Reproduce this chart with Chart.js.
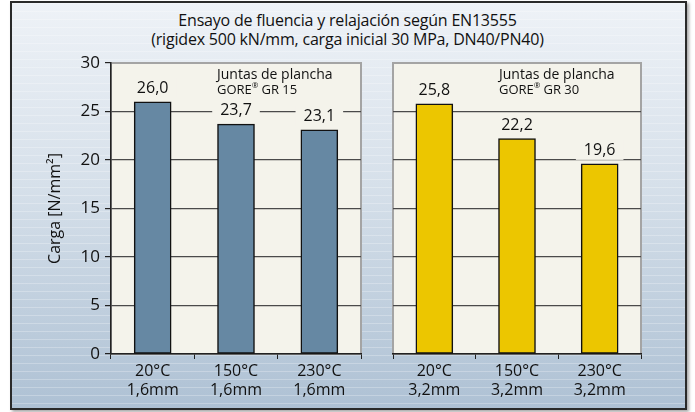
<!DOCTYPE html>
<html>
<head>
<meta charset="utf-8">
<script src="https://cdn.jsdelivr.net/npm/chart.js@4"></script>
<style>
  html, body { margin: 0; padding: 0; width: 695px; height: 412px; background: #ffffff; overflow: hidden; }
  #frame {
    position: absolute; left: 10px; top: 1px; width: 673px; height: 405px;
    border: 2px solid #2a2a2a;
    box-shadow: 2px 2px 3px rgba(0,0,0,0.35);
    background:
      repeating-linear-gradient(to bottom, rgba(255,255,255,0.25) 0px, rgba(255,255,255,0.25) 1px, rgba(0,0,0,0) 1px, rgba(0,0,0,0) 8px),
      linear-gradient(to bottom, #eef2f7 0%, #d6e0ea 45%, #aec1d4 100%);
  }
  #title {
    position: absolute; left: 0; top: 11px; width: 695px; text-align: center;
    font-family: "Open Sans", sans-serif; font-size: 16px; line-height: 19px; color: #111111;
    letter-spacing: -0.2px;
  }
  canvas { position: absolute; left: 0; top: 0; }
</style>
</head>
<body>
<div id="frame"></div>
<div id="title">Ensayo de fluencia y relajación según EN13555<br>(rigidex 500 kN/mm, carga inicial 30 MPa, DN40/PN40)</div>
<canvas id="leftChart" width="695" height="412"></canvas>
<canvas id="rightChart" width="695" height="412"></canvas>
<script>
  const categoriesLeft = [["20°C", "1,6mm"], ["150°C", "1,6mm"], ["230°C", "1,6mm"]];
  const valuesLeft = [26.0, 23.7, 23.1];
  const categoriesRight = [["20°C", "3,2mm"], ["150°C", "3,2mm"], ["230°C", "3,2mm"]];
  const valuesRight = [25.8, 22.2, 19.6];
  const yMin = 0;
  const yMax = 30;
  const yStep = 5;
  const yTitle = "Carga [N/mm²]";
  const noteLine1 = "Juntas de plancha";
  const noteLeft = "GR 15";
  const noteRight = "GR 30";

  const FONT = "'Open Sans', sans-serif";
  const PLOT_BG = "#f4f3eb";

  function fmt(v) {
    return v.toFixed(1).replace(".", ",");
  }

  // plot area background + grey frame
  const plotBg = {
    id: "plotBg",
    beforeDraw(chart) {
      const a = chart.chartArea;
      const ctx = chart.ctx;
      ctx.save();
      ctx.fillStyle = PLOT_BG;
      ctx.fillRect(a.left, a.top, a.right - a.left, a.bottom - a.top);
      ctx.strokeStyle = "#a4a4a4";
      ctx.lineWidth = 2;
      ctx.strokeRect(a.left, a.top, a.right - a.left, a.bottom - a.top);
      ctx.restore();
    },
  };

  // value labels above bars, with background that cuts the grid line
  const valueLabels = {
    id: "valueLabels",
    afterDatasetsDraw(chart) {
      const ctx = chart.ctx;
      const meta = chart.getDatasetMeta(0);
      const data = chart.data.datasets[0].data;
      ctx.save();
      ctx.font = `16px ${FONT}`;
      ctx.textAlign = "center";
      ctx.textBaseline = "alphabetic";
      meta.data.forEach((bar, i) => {
        const txt = fmt(data[i]);
        const w = ctx.measureText(txt).width;
        const yb = bar.y - 9;
        ctx.fillStyle = PLOT_BG;
        ctx.fillRect(bar.x - w / 2 - 8, yb - 15, w + 16, 20);
        ctx.fillStyle = "#111111";
        ctx.fillText(txt, bar.x, yb);
      });
      ctx.restore();
    },
  };

  // "Juntas de plancha / GORE® GR xx" note
  const notePlugin = {
    id: "note",
    afterDatasetsDraw(chart, args, opts) {
      const a = chart.chartArea;
      const ctx = chart.ctx;
      const x = a.left + 106;
      ctx.save();
      ctx.fillStyle = "#111111";
      ctx.textAlign = "left";
      ctx.font = `14px ${FONT}`;
      ctx.fillText(noteLine1, x, a.top + 16);
      ctx.font = `13px ${FONT}`;
      ctx.fillText("GORE", x, a.top + 31);
      let w = ctx.measureText("GORE").width;
      ctx.font = `8px ${FONT}`;
      ctx.fillText("®", x + w, a.top + 25);
      w += ctx.measureText("®").width + 3;
      ctx.font = `13px ${FONT}`;
      ctx.fillText(opts.text, x + w, a.top + 31);
      ctx.restore();
    },
  };

  function makeChart(id, labels, values, color, isLeft) {
    const ctx = document.getElementById(id);
    return new Chart(ctx, {
      type: "bar",
      data: {
        labels: labels,
        datasets: [
          {
            data: values,
            backgroundColor: color,
            borderColor: "#111111",
            borderWidth: 1.5,
            borderSkipped: false,
            barThickness: 37,
          },
        ],
      },
      options: {
        responsive: false,
        animation: false,
        devicePixelRatio: 1,
        layout: {
          padding: isLeft
            ? { left: 40, right: 334, top: 63, bottom: 14 }
            : { left: 393, right: 54, top: 63, bottom: 14 },
        },
        plugins: {
          legend: { display: false },
          tooltip: { enabled: false },
          note: { text: isLeft ? noteLeft : noteRight },
        },
        scales: {
          x: {
            grid: {
              offset: true,
              drawOnChartArea: false,
              drawTicks: true,
              tickLength: 5,
              color: "#222222",
            },
            border: { display: true, color: "#222222", width: 1.5 },
            ticks: {
              color: "#111111",
              padding: 3,
              font: { family: FONT, size: 16, lineHeight: 1.2 },
            },
            afterFit(scale) {
              scale.height = 44;
            },
          },
          y: {
            min: yMin,
            max: yMax,
            grid: {
              color: (c) => (c.tick.value === yMin || c.tick.value === yMax ? "rgba(0,0,0,0)" : "#4a4a4a"),
              lineWidth: 1.2,
              drawTicks: isLeft,
              tickLength: 6,
              tickColor: "#222222",
            },
            border: { display: isLeft, color: "#222222", width: 1.5 },
            ticks: {
              display: isLeft,
              stepSize: yStep,
              color: "#111111",
              padding: 5,
              font: { family: FONT, size: 17 },
            },
            title: {
              display: isLeft,
              text: yTitle,
              color: "#111111",
              font: { family: FONT, size: 16 },
              padding: { top: 6, bottom: 2 },
            },
            afterFit(scale) {
              scale.width = isLeft ? 71 : 0;
            },
          },
        },
      },
      plugins: [plotBg, valueLabels, notePlugin],
    });
  }

  makeChart("leftChart", categoriesLeft, valuesLeft, "#6688a3", true);
  makeChart("rightChart", categoriesRight, valuesRight, "#ecc600", false);
</script>
</body>
</html>
